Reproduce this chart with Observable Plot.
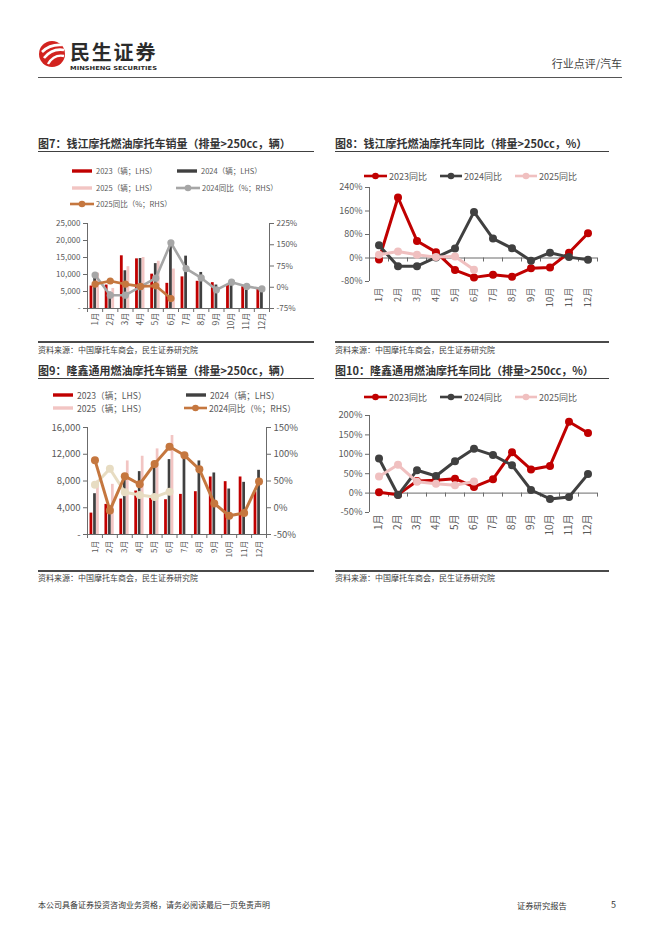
<!DOCTYPE html>
<html><head><meta charset="utf-8">
<script src="https://cdn.jsdelivr.net/npm/d3@7"></script>
<script src="https://cdn.jsdelivr.net/npm/@observablehq/plot@0.6"></script>
<style>
body{margin:0;background:#fff;}
#page{position:relative;width:662px;height:936px;font-family:"Noto Sans CJK SC","Noto Sans",sans-serif;color:#333;overflow:hidden;background:#fff;}
.abs{position:absolute;white-space:nowrap;line-height:1;}
.title{font-size:11px;font-weight:bold;color:#333;}
.src{font-size:8px;color:#404040;}
.rule{position:absolute;background:#404040;}
.lg{position:absolute;display:flex;align-items:center;white-space:nowrap;color:#595959;line-height:1;}
.chart{position:absolute;}
</style></head><body><div id="page"></div>
<script>
// ---------------- DATA ----------------
const MONTHS = ["1月","2月","3月","4月","5月","6月","7月","8月","9月","10月","11月","12月"];
// 钱江摩托 (辆)
const QJ_SALES_2023 = [6600, 6900, 15500, 14600, 10100, 7400, 9300, 8000, 7600, 6900, 6400, 5600];
const QJ_SALES_2024 = [9500, 4800, 11100, 14700, 13200, 19200, 15400, 10600, 6900, 7700, 6600, 5400];
const QJ_SALES_2025 = [10400, 5900, 12300, 15000, 13900, 11600];
// 钱江摩托 同比 (%)
const QJ_YOY_2023 = [-5, 206, 58, 20, -41, -66, -57, -64, -35, -32, 18, 84];
const QJ_YOY_2024 = [43, -28, -28, 2, 32, 157, 66, 33, -9, 18, 3, -6];
const QJ_YOY_2025 = [11, 22, 11, 3, 5, -40];
// 隆鑫通用 (辆)
const LX_SALES_2023 = [3200, 4500, 5300, 6500, 5400, 5200, 6000, 6400, 8600, 7900, 8600, 6400];
const LX_SALES_2024 = [6100, 4300, 8400, 9400, 10000, 11200, 11800, 11000, 9200, 6800, 7800, 9600];
const LX_SALES_2025 = [8000, 7500, 11000, 11700, 12800, 14800];
// 隆鑫通用 同比 (%)
const LX_YOY_2023 = [2, -4, 31, 33, 37, 16, 36, 105, 61, 70, 184, 155];
const LX_YOY_2024 = [89, -5, 59, 44, 82, 114, 98, 72, 8, -15, -10, 49];
const LX_YOY_2025 = [43, 73, 29, 24, 20, 30];
// tick values
const QJ_LHS_TICKS = [0, 5000, 10000, 15000, 20000, 25000];
const QJ_RHS_TICKS = [-75, 0, 75, 150, 225];
const QJ_YOY_TICKS = [-80, 0, 80, 160, 240];
const LX_LHS_TICKS = [0, 4000, 8000, 12000, 16000];
const LX_RHS_TICKS = [-50, 0, 50, 100, 150];
const LX_YOY_TICKS = [-50, 0, 50, 100, 150, 200];

// ---------------- STYLE ----------------
const FONT = "'Noto Sans CJK SC','Noto Sans',sans-serif";
const RED = "#c00000", DARK = "#404040", PINK = "#f2c5c3", GRAY = "#a6a6a6",
      ORANGE = "#c5773f", BEIGE = "#e7dcc2", PINKL = "#f0c0c0", AX = "#6b6b6b";

const page = document.getElementById("page");
function el(tag, cls, css, text){
  const e = document.createElement(tag);
  if (cls) e.className = cls;
  Object.assign(e.style, css || {});
  if (text != null) e.textContent = text;
  page.appendChild(e);
  return e;
}
const rowsOf = (vals) => vals.map((v, i) => ({m: i + 1, v}));
const monthNo = MONTHS.map((_, i) => i + 1);
const bounds = d3.range(0, 13).map(i => i + 0.5);
const fmtL = d => d === 0 ? "-" : d3.format(",")(d);

// ---------------- HEADER ----------------
const logo = document.createElementNS("http://www.w3.org/2000/svg", "svg");
logo.setAttribute("width", "130"); logo.setAttribute("height", "40");
Object.assign(logo.style, {position: "absolute", left: "38px", top: "36px"});
logo.innerHTML = `
  <circle cx="14" cy="18" r="13" fill="#d2231f"/>
  <path d="M4 16 Q12 8 24 9" stroke="#fff" stroke-width="2.6" fill="none"/>
  <path d="M6 22 Q14 12 26 14" stroke="#fff" stroke-width="2.6" fill="none"/>
  <path d="M10 28 Q16 18 26 20" stroke="#fff" stroke-width="2.4" fill="none"/>
  <text x="32" y="24" font-size="20" font-weight="bold" fill="#2b2b2b" font-family="${FONT}" letter-spacing="1.8">民生证券</text>
  <text x="32" y="34" font-size="5.4" font-weight="bold" fill="#2b2b2b" font-family="DejaVu Sans, sans-serif" textLength="87" lengthAdjust="spacingAndGlyphs">MINSHENG SECURITIES</text>`;
page.appendChild(logo);
el("div", "abs", {right: "40px", top: "58px", fontSize: "11px", color: "#444"}, "行业点评/汽车");
el("div", "rule", {left: "38px", top: "77px", width: "584px", height: "1px", background: "#555"});

// ---------------- FOOTER ----------------
el("div", "abs", {left: "38px", top: "901px", fontSize: "8px", color: "#333"}, "本公司具备证券投资咨询业务资格，请务必阅读最后一页免责声明");
el("div", "abs", {left: "517px", top: "901px", fontSize: "8.3px", color: "#333"}, "证券研究报告");
el("div", "abs", {left: "611px", top: "900px", fontSize: "9px", color: "#333"}, "5");

// ---------------- TITLES / RULES / SOURCES ----------------
function frame(x, w, titleY, lineY, srcLineY, srcY, title){
  el("div", "abs title", {left: x + "px", top: (titleY - 6) + "px"}, title);
  el("div", "rule", {left: x + "px", top: lineY + "px", width: w + "px", height: "1.3px"});
  el("div", "rule", {left: x + "px", top: srcLineY + "px", width: w + "px", height: "2.2px", background: "#4a4a4a"});
  el("div", "abs src", {left: x + "px", top: (srcY - 4) + "px"}, "资料来源：中国摩托车商会，民生证券研究院");
}
frame(38, 276, 144, 151, 341, 350, "图7：钱江摩托燃油摩托车销量（排量>250cc，辆）");
frame(335, 274, 144, 151, 341, 350, "图8：钱江摩托燃油摩托车同比（排量>250cc，%）");
frame(38, 276, 371, 378, 570, 578, "图9：隆鑫通用燃油摩托车销量（排量>250cc，辆）");
frame(335, 274, 371, 378, 570, 578, "图10：隆鑫通用燃油摩托车同比（排量>250cc，%）");

// ---------------- LEGENDS ----------------
function legendItem(x, y, type, color, label, fs, sw){
  const d = el("div", "lg", {left: x + "px", top: (y - 6) + "px", height: "12px", fontSize: fs + "px"});
  const s = document.createElementNS("http://www.w3.org/2000/svg", "svg");
  s.setAttribute("width", sw); s.setAttribute("height", "12");
  s.style.marginRight = "2px";
  if (type === "bar") s.innerHTML = `<rect x="0" y="4.3" width="${sw - 2}" height="3.4" fill="${color}"/>`;
  else s.innerHTML = `<line x1="0" y1="6" x2="${sw}" y2="6" stroke="${color}" stroke-width="2.6"/><circle cx="${sw/2}" cy="6" r="3.3" fill="${color}"/>`;
  d.appendChild(s);
  const t = document.createElement("span"); t.textContent = label; d.appendChild(t);
}
// chart 7
legendItem(72, 171, "bar", RED, "2023（辆；LHS）", 7.5, 22);
legendItem(177, 171, "bar", DARK, "2024（辆；LHS）", 7.5, 22);
legendItem(72, 187.5, "bar", PINK, "2025（辆；LHS）", 7.5, 22);
legendItem(176, 187.5, "line", GRAY, "2024同比（%；RHS）", 7.5, 24);
legendItem(70, 204, "line", ORANGE, "2025同比（%；RHS）", 7.5, 24);
// chart 8
legendItem(364, 176, "line", RED, "2023同比", 9, 23);
legendItem(440, 176, "line", DARK, "2024同比", 9, 22);
legendItem(515, 176, "line", PINKL, "2025同比", 9, 22);
// chart 9
legendItem(53, 395, "bar", RED, "2023（辆；LHS）", 8.6, 22);
legendItem(186, 395, "bar", DARK, "2024（辆；LHS）", 8.6, 22);
legendItem(53, 408, "bar", PINK, "2025（辆；LHS）", 8.6, 22);
legendItem(184, 408, "line", ORANGE, "2024同比（%；RHS）", 8.6, 23);
// chart 10
legendItem(364, 397, "line", RED, "2023同比", 9, 23);
legendItem(440, 397, "line", DARK, "2024同比", 9, 22);
legendItem(515, 397, "line", PINKL, "2025同比", 9, 22);

function place(node, left, top){
  const d = el("div", "chart", {left: left + "px", top: top + "px"});
  d.appendChild(node);
}
const baseStyle = (fs) => ({fontFamily: FONT, fontSize: fs + "px", color: "#595959", background: "transparent", overflow: "visible"});

// ---------------- BAR + DUAL AXIS CHART ----------------
function barChart(o){
  const toL = r => (r - o.rhs[0]) / (o.rhs[1] - o.rhs[0]) * o.lhsMax;
  const fromL = l => Math.round(l / o.lhsMax * (o.rhs[1] - o.rhs[0]) + o.rhs[0]);
  const bar = (vals, a, b, fill) => Plot.rect(rowsOf(vals), {x1: d => d.m + a, x2: d => d.m + b, y1: 0, y2: "v", fill});
  const lineMarks = (vals, color, sw, r) => [
    Plot.line(rowsOf(vals), {x: "m", y: d => toL(d.v), stroke: color, strokeWidth: sw}),
    Plot.dot(rowsOf(vals), {x: "m", y: d => toL(d.v), r, fill: color})
  ];
  return Plot.plot({
    width: o.width, height: o.height,
    marginLeft: o.ml, marginRight: o.mr, marginTop: o.mt, marginBottom: o.mb,
    x: {domain: [0.5, 12.5], axis: null},
    y: {domain: [0, o.lhsMax], axis: null},
    style: baseStyle(o.fs),
    marks: [
      bar(o.s23, -0.33, -0.145, RED),
      bar(o.s24, -0.09, 0.092, DARK),
      bar(o.s25, 0.108, 0.29, PINK),
      Plot.ruleY([0], {stroke: AX, strokeWidth: 1}),
      Plot.ruleX([0.5], {stroke: AX, strokeWidth: 1}),
      Plot.ruleX([12.5], {stroke: AX, strokeWidth: 1}),
      Plot.axisY({anchor: "left", label: null, ticks: o.lhsTicks, tickSize: 4, tickPadding: 3, tickFormat: fmtL, stroke: AX, fontSize: o.fs}),
      Plot.axisY({anchor: "right", label: null, ticks: o.rhsTicks.map(toL), tickSize: 4, tickPadding: 3, tickFormat: d => fromL(d) + "%", stroke: AX, fontSize: o.fs}),
      Plot.axisX({label: null, ticks: bounds, tickSize: 4, tickFormat: () => "", stroke: AX}),
      Plot.axisX({label: null, ticks: monthNo, tickSize: 0, tickPadding: o.xpad, tickRotate: -90, tickFormat: d => MONTHS[d - 1], fontSize: o.xfs}),
      ...o.lines.flatMap(l => lineMarks(l.vals, l.color, l.sw, l.r))
    ]
  });
}

place(barChart({
  width: 276, height: 130, ml: 49, mr: 45, mt: 13, mb: 32, fs: 8, xfs: 8.3, xpad: 4,
  lhsMax: 25000, rhs: [-75, 225], lhsTicks: QJ_LHS_TICKS, rhsTicks: QJ_RHS_TICKS,
  s23: QJ_SALES_2023, s24: QJ_SALES_2024, s25: QJ_SALES_2025,
  lines: [
    {vals: QJ_YOY_2024, color: GRAY, sw: 2.6, r: 3.6},
    {vals: QJ_YOY_2025, color: ORANGE, sw: 2.6, r: 3.6}
  ]
}), 38, 210);

place(barChart({
  width: 276, height: 140, ml: 49, mr: 48, mt: 7, mb: 26, fs: 9.5, xfs: 8, xpad: 6,
  lhsMax: 16000, rhs: [-50, 150], lhsTicks: LX_LHS_TICKS, rhsTicks: LX_RHS_TICKS,
  s23: LX_SALES_2023, s24: LX_SALES_2024, s25: LX_SALES_2025,
  lines: [
    {vals: LX_YOY_2025, color: BEIGE, sw: 3, r: 4},
    {vals: LX_YOY_2024, color: ORANGE, sw: 3, r: 4}
  ]
}), 38, 420);

// ---------------- LINE CHART ----------------
function lineChart(o){
  const H = o.height - o.mt - o.mb;
  const zeroOffset = H * (0 - o.dom[0]) / (o.dom[1] - o.dom[0]);
  const lineMarks = (vals, color) => [
    Plot.line(rowsOf(vals), {x: "m", y: "v", stroke: color, strokeWidth: 3}),
    Plot.dot(rowsOf(vals), {x: "m", y: "v", r: 4, fill: color})
  ];
  return Plot.plot({
    width: o.width, height: o.height,
    marginLeft: o.ml, marginRight: o.mr, marginTop: o.mt, marginBottom: o.mb,
    x: {domain: [0.5, 12.5], axis: null},
    y: {domain: o.dom, axis: null},
    style: baseStyle(o.fs),
    marks: [
      Plot.ruleX([0.5], {stroke: AX, strokeWidth: 1}),
      Plot.ruleY([0], {stroke: AX, strokeWidth: 1}),
      Plot.axisY({anchor: "left", label: null, ticks: o.ticks, tickSize: 4, tickPadding: 3, tickFormat: d => d + "%", stroke: AX, fontSize: o.fs}),
      Plot.axisX({label: null, ticks: bounds, tickSize: 4, tickFormat: () => "", stroke: AX, dy: -zeroOffset}),
      Plot.axisX({label: null, ticks: monthNo, tickSize: 0, tickPadding: o.xpad, tickRotate: -90, tickFormat: d => MONTHS[d - 1], fontSize: o.xfs}),
      ...lineMarks(o.y23, RED),
      ...lineMarks(o.y24, DARK),
      ...lineMarks(o.y25, PINKL)
    ]
  });
}

place(lineChart({
  width: 276, height: 130, ml: 34, mr: 14, mt: 7, mb: 29, fs: 9, xfs: 9.3, xpad: 6,
  dom: [-80, 240], ticks: QJ_YOY_TICKS,
  y23: QJ_YOY_2023, y24: QJ_YOY_2024, y25: QJ_YOY_2025
}), 335, 180);

place(lineChart({
  width: 276, height: 135, ml: 34, mr: 14, mt: 10, mb: 28, fs: 9.3, xfs: 10, xpad: 2,
  dom: [-50, 200], ticks: LX_YOY_TICKS,
  y23: LX_YOY_2023, y24: LX_YOY_2024, y25: LX_YOY_2025
}), 335, 405);
</script></body></html>
